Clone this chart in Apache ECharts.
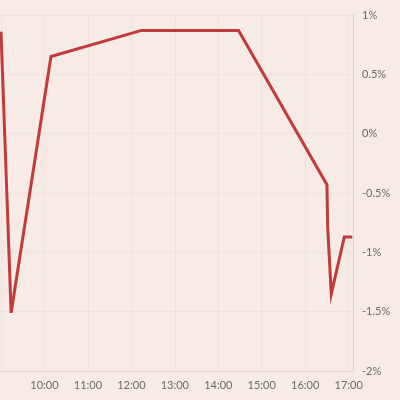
<!DOCTYPE html>
<html><head><meta charset="utf-8">
<script src="https://cdn.jsdelivr.net/npm/echarts@6/dist/echarts.min.js"></script>
<style>html,body{margin:0;padding:0;background:#f7ebe5}#c{width:400px;height:400px}</style>
</head><body><div id="c"></div>
<script>
var day = '2024-01-02 ';
var times = ['09:00','09:14','10:09','12:14','14:28','16:30','16:31','16:36','16:54','17:05'];
var values = [0.86, -1.51, 0.65, 0.87, 0.87, -0.43, -0.78, -1.35, -0.87, -0.87];
var yTicks = [-2, -1.5, -1, -0.5, 0, 0.5, 1];
var xStart = '09:00', xEnd = '17:06';

function ts(t){ return new Date(day.replace(/-/g,'/') + t).getTime(); }
var data = times.map(function(t,i){ return [ts(t), values[i]]; });

var chart = echarts.init(document.getElementById('c'), null, {renderer:'canvas'});
chart.setOption({
  backgroundColor: '#f7ebe5',
  animation: false,
  grid: {left: 1, right: 47, top: 15, bottom: 29, containLabel: false, outerBoundsMode: 'none'},
  xAxis: {
    type: 'time',
    min: ts(xStart), max: ts(xEnd),
    interval: 3600000,
    axisLine: {show: true, onZero: false, lineStyle: {color: '#dcd2cc', width: 1}},
    axisTick: {show: false},
    splitLine: {show: true, showMinLine: false, lineStyle: {color: '#f0e2d8', width: 1}},
    axisLabel: {
      showMinLabel: false, showMaxLabel: false,
      color: '#6e6866', fontFamily: 'Lato', fontSize: 11, margin: 9,
      formatter: function(v){ if (v <= ts(xStart)) return ''; var d = new Date(v); var h = d.getHours(), m = d.getMinutes();
        return (h<10?'0':'') + h + ':' + (m<10?'0':'') + m; }
    }
  },
  yAxis: {
    type: 'value', position: 'right',
    min: yTicks[0], max: yTicks[yTicks.length-1], interval: 0.5,
    axisLine: {show: true, lineStyle: {color: '#dcd2cc', width: 1}},
    axisTick: {show: false},
    splitLine: {show: true, lineStyle: {color: '#f0e2d8', width: 1}},
    axisLabel: {
      color: '#6e6866', fontFamily: 'Lato', fontSize: 11, margin: 9,
      formatter: function(v){ return (Math.round(v*10)/10) + '%'; }
    }
  },
  series: [{
    type: 'line', data: data, showSymbol: false, symbol: 'none',
    lineStyle: {color: '#c23b3a', width: 3, join: 'miter'},
    clip: false
  }]
});
</script></body></html>
